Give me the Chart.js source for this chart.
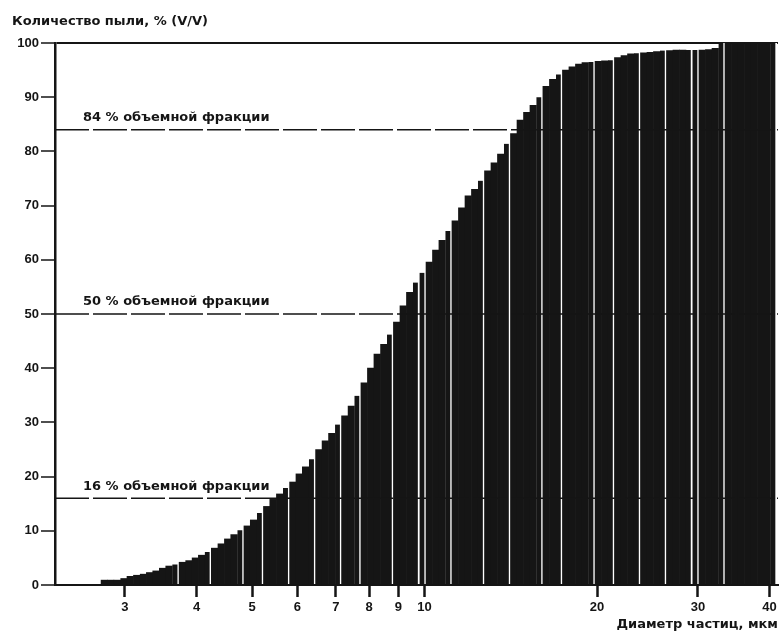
<!DOCTYPE html>
<html>
<head>
<meta charset="utf-8">
<script src="https://cdn.jsdelivr.net/npm/chart.js@4"></script>
<style>
  html, body { margin: 0; padding: 0; background: #fff; }
  #wrap { width: 783px; height: 635px; }
</style>
</head>
<body>
<div id="wrap"><canvas id="myChart"></canvas></div>
<script>
const colorInk = '#151515';

// particle diameter, um (bin centres, log spaced)
const diameters = [
  2.76, 2.83, 2.91, 2.99, 3.06, 3.15, 3.23, 3.31, 3.40, 3.49,
  3.58, 3.68, 3.78, 3.88, 3.98, 4.08, 4.19, 4.30, 4.42, 4.53,
  4.65, 4.78, 4.90, 5.03, 5.17, 5.30, 5.44, 5.59, 5.74, 5.89,
  6.04, 6.20, 6.37, 6.54, 6.71, 6.89, 7.07, 7.26, 7.45, 7.64,
  7.85, 8.05, 8.27, 8.49, 8.71, 8.94, 9.18, 9.42, 9.67, 9.93,
  10.19, 10.46, 10.73, 11.02, 11.31, 11.61, 11.92, 12.23, 12.56, 12.89,
  13.23, 13.58, 13.94, 14.31, 14.69, 15.08, 15.47, 15.88, 16.30, 16.74,
  17.18, 17.63, 18.10, 18.58, 19.07, 19.58, 20.10, 20.63, 21.17, 21.73,
  22.31, 22.90, 23.50, 24.13, 24.76, 25.42, 26.09, 26.78, 27.49, 28.22,
  28.96, 29.73, 30.52, 31.33, 32.16, 33.01, 33.88, 34.78, 35.70, 36.64,
  37.61, 38.61, 39.63, 40.68
];

// cumulative amount of dust, % (V/V)
const cumulative = [
  0.9, 0.9, 0.9, 1.2, 1.6, 1.8, 2.0, 2.3, 2.6, 3.1,
  3.5, 3.8, 4.2, 4.5, 5.0, 5.5, 6.1, 6.8, 7.6, 8.5,
  9.3, 10.1, 10.9, 12.0, 13.3, 14.5, 15.8, 16.8, 17.9, 19.0,
  20.5, 21.8, 23.2, 25.0, 26.6, 28.0, 29.6, 31.2, 33.0, 34.9,
  37.3, 40.0, 42.6, 44.4, 46.2, 48.5, 51.5, 54.0, 55.8, 57.6,
  59.6, 61.8, 63.6, 65.3, 67.2, 69.6, 71.8, 73.0, 74.6, 76.4,
  77.9, 79.5, 81.4, 83.3, 85.8, 87.2, 88.5, 90.0, 92.0, 93.3,
  94.2, 95.0, 95.6, 96.1, 96.4, 96.5, 96.6, 96.7, 96.8, 97.3,
  97.7, 98.0, 98.1, 98.2, 98.3, 98.4, 98.6, 98.6, 98.7, 98.7,
  98.7, 98.7, 98.7, 98.8, 99.0, 100, 100, 100, 100, 100,
  100, 100, 100, 100
];

// bins followed by a white separator line
const separatorBins = [11, 16, 21, 24, 28, 32, 36, 39, 44, 48, 49, 53, 58, 62, 67, 70, 75, 78, 82, 86, 90, 91, 95, 103];

const xTicks = [3, 4, 5, 6, 7, 8, 9, 10, 20, 30, 40];
const xRange = [2.265, 41.38];
const levels = [16, 50, 84];
const levelLabels = ['16 % объемной фракции', '50 % объемной фракции', '84 % объемной фракции'];
const yTitle = 'Количество пыли, % (V/V)';
const xTitle = 'Диаметр частиц, мкм';

const textFont = 'bold 13px "DejaVu Sans", "Liberation Sans", sans-serif';

const textPlugin = {
  id: 'texts',
  afterDatasetsDraw(chart) {
    const c = chart.ctx;
    const y = chart.scales.y;
    const left = chart.chartArea.left;
    c.save();
    c.fillStyle = colorInk;
    c.font = textFont;
    c.textAlign = 'left';
    c.textBaseline = 'middle';
    levels.forEach((lv, i) => {
      c.fillText(levelLabels[i], left + 28, y.getPixelForValue(lv) - 12);
    });
    c.fillText(yTitle, 12, 22);
    c.restore();
  }
};

const datasets = levels.map(lv => ({
  type: 'line',
  data: [{ x: xRange[0], y: lv }, { x: xRange[1], y: lv }],
  borderColor: colorInk,
  borderWidth: 1.6,
  borderDash: [34, 4],
  pointRadius: 0,
  order: 0,
}));

datasets.push({
  type: 'bar',
  data: diameters.map((d, i) => ({ x: d, y: cumulative[i] })),
  backgroundColor: colorInk,
  borderColor: '#ffffff',
  borderSkipped: false,
  borderWidth: (ctx) => separatorBins.includes(ctx.dataIndex) ? { top: 0, left: 0, bottom: 0, right: 2 } : 0,
  barThickness: 'flex',
  categoryPercentage: 1,
  barPercentage: 1,
  order: 1,
});

new Chart(document.getElementById('myChart'), {
  type: 'bar',
  data: { datasets: datasets },
  plugins: [textPlugin],
  options: {
    responsive: true,
    maintainAspectRatio: false,
    animation: false,
    layout: { padding: { top: 43, right: 5, left: 0, bottom: 0 } },
    plugins: {
      legend: { display: false },
      tooltip: { enabled: false },
    },
    scales: {
      x: {
        type: 'logarithmic',
        min: xRange[0],
        max: xRange[1],
        offset: false,
        afterBuildTicks: (scale) => { scale.ticks = xTicks.map(v => ({ value: v })); },
        afterFit: (scale) => { scale.height = 50; },
        ticks: {
          autoSkip: false,
          maxRotation: 0,
          padding: 3,
          color: colorInk,
          font: { family: '"Liberation Sans", sans-serif', size: 13, weight: 'bold' },
          callback: (v) => String(v),
        },
        grid: { offset: false, drawOnChartArea: false, tickLength: 12, tickWidth: 2.5, tickColor: colorInk },
        border: { color: colorInk, width: 2 },
        title: {
          display: true,
          text: xTitle,
          align: 'end',
          color: colorInk,
          font: { family: '"DejaVu Sans", sans-serif', size: 13, weight: 'bold' },
          padding: { top: 0, bottom: 3 },
        },
      },
      y: {
        min: 0,
        max: 100,
        afterFit: (scale) => { scale.width = 55; },
        ticks: {
          stepSize: 10,
          padding: 2,
          color: colorInk,
          font: { family: '"Liberation Sans", sans-serif', size: 13, weight: 'bold' },
        },
        grid: {
          color: (ctx) => ctx.tick && ctx.tick.value === 100 ? colorInk : 'rgba(0,0,0,0)',
          lineWidth: 2,
          tickLength: 14,
          tickWidth: 1.5,
          tickColor: colorInk,
        },
        border: { color: colorInk, width: 2.5 },
      },
    },
  },
});
</script>
</body>
</html>
